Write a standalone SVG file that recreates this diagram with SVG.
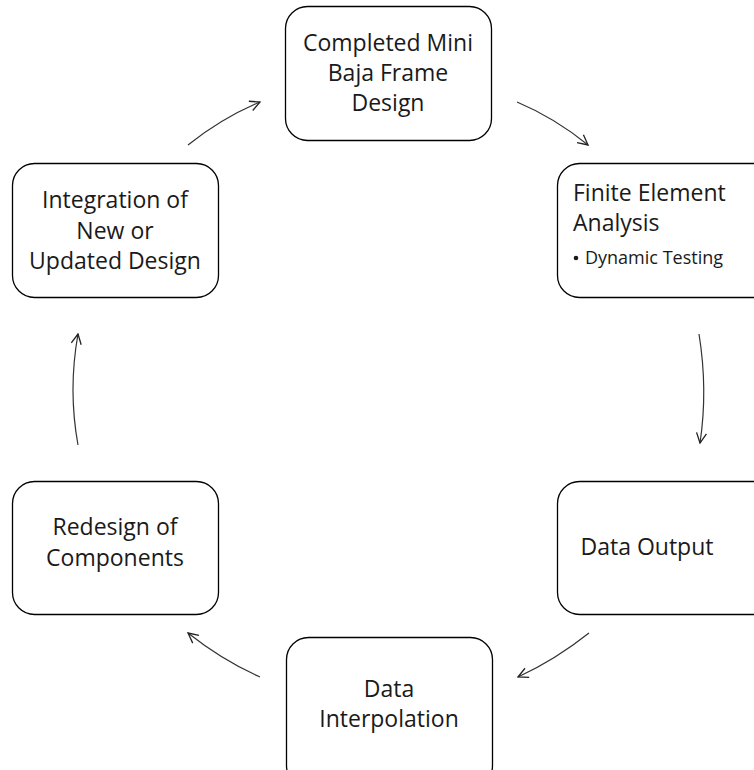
<svg xmlns="http://www.w3.org/2000/svg" width="754" height="770" viewBox="0 0 754 770">
<defs>
<style>
.box{fill:#fff;stroke:#000;stroke-width:1.3}
.t{font-family:"Open Sans","Liberation Sans",sans-serif;font-size:23px;fill:#1a1a1a;text-anchor:middle}
.tl{font-family:"Open Sans","Liberation Sans",sans-serif;font-size:23px;fill:#1a1a1a}
.s{font-family:"Open Sans","Liberation Sans",sans-serif;font-size:18px;fill:#1a1a1a}
.c{fill:none;stroke:#333;stroke-width:1.2;marker-end:url(#ah)}
</style>
<marker id="ah" viewBox="0 0 12 12" refX="11" refY="6" markerWidth="12" markerHeight="12" markerUnits="userSpaceOnUse" orient="auto">
<path d="M1,1 L11,6 L1,11" fill="none" stroke="#222" stroke-width="1.3"/>
</marker>
</defs>
<rect width="754" height="770" fill="#fff"/>
<g id="connectors">
<path class="c" d="M517,102 Q555,118 588,145"/>
<path class="c" d="M699,334 Q708,390 700,443"/>
<path class="c" d="M589,633 Q555,660 518,677"/>
<path class="c" d="M260,677 Q222,660 188,633"/>
<path class="c" d="M78,445 Q68,390 78,334"/>
<path class="c" d="M188,145 Q222,118 260,102"/>
</g>
<g id="n1">
<rect class="box" x="285.5" y="6.5" width="206" height="134" rx="22"/>
<text class="t" x="388" y="51">Completed Mini</text>
<text class="t" x="388" y="81">Baja Frame</text>
<text class="t" x="388" y="111">Design</text>
</g>
<g id="n2">
<rect class="box" x="557.5" y="163.5" width="220" height="134" rx="22"/>
<text class="tl" x="573" y="201">Finite Element</text>
<text class="tl" x="573" y="231">Analysis</text>
<circle cx="576" cy="258" r="2.3" fill="#1a1a1a"/>
<text class="s" x="585" y="264">Dynamic Testing</text>
</g>
<g id="n3">
<rect class="box" x="557.5" y="481.5" width="220" height="133" rx="22"/>
<text class="t" x="647" y="555">Data Output</text>
</g>
<g id="n4">
<rect class="box" x="286.5" y="637.5" width="206" height="150" rx="22"/>
<text class="t" x="389" y="697">Data</text>
<text class="t" x="389" y="727">Interpolation</text>
</g>
<g id="n5">
<rect class="box" x="12.5" y="481.5" width="206" height="133" rx="22"/>
<text class="t" x="115" y="535">Redesign of</text>
<text class="t" x="115" y="566">Components</text>
</g>
<g id="n6">
<rect class="box" x="12.5" y="163.5" width="206" height="134" rx="22"/>
<text class="t" x="115" y="208">Integration of</text>
<text class="t" x="115" y="238.5">New or</text>
<text class="t" x="115" y="269">Updated Design</text>
</g>
</svg>
